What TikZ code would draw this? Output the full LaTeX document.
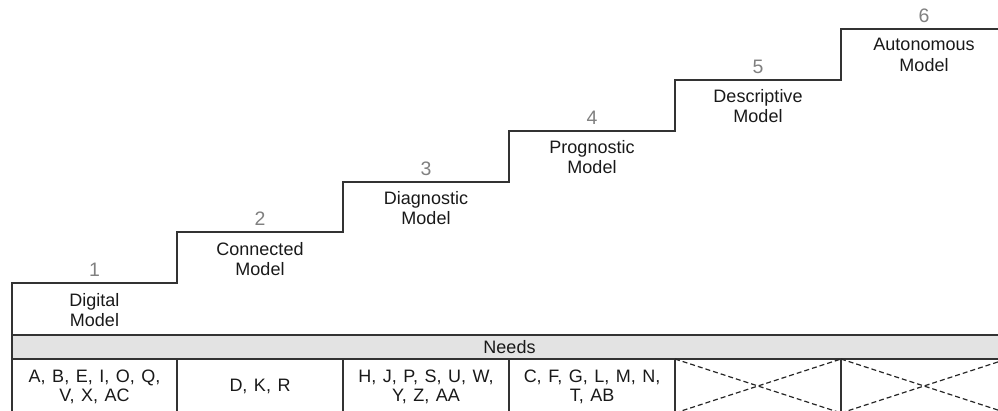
\documentclass[tikz,border=0pt]{standalone}
\usepackage{fontspec}
\setmainfont{Liberation Sans}
\newcommand\mycellspacing{\spaceskip=6.5pt plus 1pt\relax}
\begin{document}
\begin{tikzpicture}[x=1pt,y=-1pt,
  stairline/.style={draw=black!80,line width=1.4pt,line join=miter},
  gridline/.style={draw=black!80,line width=1.4pt},
  crossline/.style={draw=black!85,line width=1.2pt,dash pattern=on 5pt off 3pt},
  lbl/.style={align=center,font=\fontsize{18}{20.5}\selectfont,inner sep=0pt,text=black!90},
  celltext/.style={align=center,font=\fontsize{18}{19.5}\selectfont,execute at begin node=\mycellspacing,inner sep=0pt,text=black!90},
  num/.style={font=\fontsize{19.5}{20}\selectfont,text=black!50,inner sep=0pt},
  barbox/.style={fill=black!11,draw=black!80,line width=1.4pt}]
\useasboundingbox (0,0) rectangle (998,411);
\clip (0,0) rectangle (998,411);
% stair corners
\coordinate (b0) at (12,335);
\coordinate (a1) at (12,283);   \coordinate (e1) at (177,283);
\coordinate (a2) at (177,232);  \coordinate (e2) at (343,232);
\coordinate (a3) at (343,182);  \coordinate (e3) at (509,182);
\coordinate (a4) at (509,131);  \coordinate (e4) at (675,131);
\coordinate (a5) at (675,80);   \coordinate (e5) at (841,80);
\coordinate (a6) at (841,29);   \coordinate (e6) at (1010,29);
\draw[stairline] (b0) -- (a1) -- (e1) -- (a2) -- (e2) -- (a3) -- (e3) -- (a4) -- (e4) -- (a5) -- (e5) -- (a6) -- (e6);
% numbers
\node[num] (n1) at (94.5,270) {1};
\node[num] (n2) at (260,219) {2};
\node[num] (n3) at (426,169) {3};
\node[num] (n4) at (592,118) {4};
\node[num] (n5) at (758,67) {5};
\node[num] (n6) at (924,16) {6};
% labels
\node[lbl] (l1) at (94.5,310) {Digital\\Model};
\node[lbl] (l2) at (260,259) {Connected\\Model};
\node[lbl] (l3) at (426,208) {Diagnostic\\Model};
\node[lbl] (l4) at (592,157) {Prognostic\\Model};
\node[lbl] (l5) at (758,106) {Descriptive\\Model};
\node[lbl] (l6) at (924,55) {Autonomous\\Model};
% needs bar
\draw[barbox] (12,335) rectangle (1012,359);
\node[lbl] (needs) at (509.5,347) {Needs};
% table columns
\coordinate (g1) at (12,359);   \coordinate (h1) at (12,413);
\coordinate (g2) at (177,359);  \coordinate (h2) at (177,413);
\coordinate (g3) at (343,359);  \coordinate (h3) at (343,413);
\coordinate (g4) at (509,359);  \coordinate (h4) at (509,413);
\coordinate (g5) at (675,359);  \coordinate (h5) at (675,413);
\coordinate (g6) at (841,359);  \coordinate (h6) at (841,413);
\coordinate (g7) at (1007,359); \coordinate (h7) at (1007,413);
\foreach \i in {1,...,7} \draw[gridline] (g\i) -- (h\i);
\draw[crossline] (g5) -- (h6);
\draw[crossline] (h5) -- (g6);
\draw[crossline] (g6) -- (h7);
\draw[crossline] (h6) -- (g7);
% cell texts
\node[celltext] (c1) at (94.5,387) {A, B, E, I, O, Q,\\V, X, AC};
\node[celltext] (c2) at (260,386) {D, K, R};
\node[celltext] (c3) at (426,387) {H, J, P, S, U, W,\\Y, Z, AA};
\node[celltext] (c4) at (592,387) {C, F, G, L, M, N,\\T, AB};
\end{tikzpicture}
\end{document}
